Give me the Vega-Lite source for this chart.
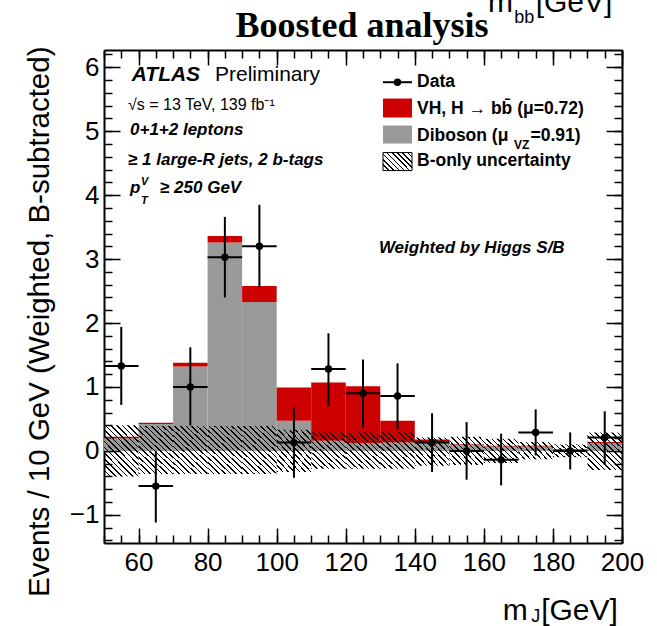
{
  "$schema": "https://vega.github.io/schema/vega-lite/v6.json",
  "autosize": {"type": "none"},
  "padding": {"left": 104, "top": 50, "right": 35, "bottom": 83},
  "width": 518,
  "height": 493,
  "background": "white",
  "config": {"view": {"stroke": null}, "axis": {"grid": false}},
  "data": {"values": [
    {"lo":50,"hi":60,"c":55,"dib":0.20,"tot":0.22,"ulo":-0.40,"uhi":0.40,"d":1.33,"dlo":0.72,"dhi":1.94},
    {"lo":60,"hi":70,"c":65,"dib":0.42,"tot":0.44,"ulo":-0.36,"uhi":0.39,"d":-0.55,"dlo":-1.12,"dhi":0.0},
    {"lo":70,"hi":80,"c":75,"dib":1.32,"tot":1.38,"ulo":-0.36,"uhi":0.39,"d":1.00,"dlo":0.40,"dhi":1.62},
    {"lo":80,"hi":90,"c":85,"dib":3.26,"tot":3.36,"ulo":-0.36,"uhi":0.39,"d":3.03,"dlo":2.40,"dhi":3.66},
    {"lo":90,"hi":100,"c":95,"dib":2.33,"tot":2.58,"ulo":-0.36,"uhi":0.39,"d":3.20,"dlo":2.56,"dhi":3.85},
    {"lo":100,"hi":110,"c":105,"dib":0.47,"tot":0.99,"ulo":-0.33,"uhi":0.33,"d":0.13,"dlo":-0.42,"dhi":0.68},
    {"lo":110,"hi":120,"c":115,"dib":0.16,"tot":1.07,"ulo":-0.28,"uhi":0.29,"d":1.28,"dlo":0.70,"dhi":1.84},
    {"lo":120,"hi":130,"c":125,"dib":0.12,"tot":1.01,"ulo":-0.28,"uhi":0.29,"d":0.90,"dlo":0.36,"dhi":1.43},
    {"lo":130,"hi":140,"c":135,"dib":0.13,"tot":0.47,"ulo":-0.28,"uhi":0.29,"d":0.86,"dlo":0.34,"dhi":1.37},
    {"lo":140,"hi":150,"c":145,"dib":0.12,"tot":0.18,"ulo":-0.23,"uhi":0.21,"d":0.13,"dlo":-0.33,"dhi":0.59},
    {"lo":150,"hi":160,"c":155,"dib":0.10,"tot":0.11,"ulo":-0.22,"uhi":0.22,"d":0.00,"dlo":-0.45,"dhi":0.45},
    {"lo":160,"hi":170,"c":165,"dib":0.07,"tot":0.08,"ulo":-0.19,"uhi":0.19,"d":-0.14,"dlo":-0.54,"dhi":0.27},
    {"lo":170,"hi":180,"c":175,"dib":0.07,"tot":0.08,"ulo":-0.13,"uhi":0.14,"d":0.29,"dlo":-0.07,"dhi":0.65},
    {"lo":180,"hi":190,"c":185,"dib":0.02,"tot":0.03,"ulo":-0.10,"uhi":0.10,"d":0.00,"dlo":-0.29,"dhi":0.29},
    {"lo":190,"hi":200,"c":195,"dib":0.12,"tot":0.14,"ulo":-0.30,"uhi":0.29,"d":0.21,"dlo":-0.22,"dhi":0.62}
  ]},
  "resolve": {"axis": {"x": "independent", "y": "independent"}},
  "layer": [
    {
      "mark": {"type": "rect", "fill": "#999999"},
      "encoding": {
        "x": {"field": "lo", "type": "quantitative", "scale": {"domain": [50, 200], "nice": false, "zero": false},
          "axis": {"orient": "bottom", "values": [60,80,100,120,140,160,180,200], "ticks": false, "domain": true, "domainColor": "#000", "domainWidth": 2, "labels": true, "labelFont": "Liberation Sans", "labelFontSize": 26, "labelColor": "#000", "labelPadding": 6, "labelFlush": false, "labelOverlap": false, "grid": false, "title": null}},
        "x2": {"field": "hi"},
        "y": {"field": "dib", "type": "quantitative", "scale": {"domain": [-1.44, 6.27], "nice": false, "zero": false},
          "axis": {"orient": "left", "values": [-1,0,1,2,3,4,5,6], "ticks": false, "domain": true, "domainColor": "#000", "domainWidth": 2, "labels": true, "labelFont": "Liberation Sans", "labelFontSize": 26, "labelColor": "#000", "labelPadding": 5, "labelFlush": false, "labelOverlap": false, "grid": false,
            "title": "Events / 10 GeV (Weighted, B-subtracted)", "titleFont": "Liberation Sans", "titleFontSize": 29.5, "titleFontWeight": "normal", "titleColor": "#000", "titleAngle": -90, "titleAlign": "right", "titleBaseline": "alphabetic", "titleX": -56, "titleY": -4}},
        "y2": {"datum": 0}
      }
    },
    {
      "mark": {"type": "rect", "fill": "#cc0000"},
      "encoding": {
        "x": {"field": "lo", "type": "quantitative", "scale": {"domain": [50, 200], "nice": false, "zero": false},
          "axis": {"orient": "bottom", "values": [60,80,100,120,140,160,180,200], "ticks": true, "tickSize": -15, "tickWidth": 1.5, "tickColor": "#000", "labels": false, "domain": false, "grid": false, "title": null}},
        "x2": {"field": "hi"},
        "y": {"field": "dib", "type": "quantitative", "scale": {"domain": [-1.44, 6.27], "nice": false, "zero": false},
          "axis": {"orient": "left", "values": [-1,0,1,2,3,4,5,6], "ticks": true, "tickSize": -16, "tickWidth": 1.5, "tickColor": "#000", "labels": false, "domain": false, "grid": false, "title": null}},
        "y2": {"field": "tot"}
      }
    },
    {
      "mark": {"type": "rect"},
      "encoding": {
        "x": {"field": "lo", "type": "quantitative", "scale": {"domain": [50, 200], "nice": false, "zero": false},
          "axis": {"orient": "bottom", "values": [50,55,60,65,70,75,80,85,90,95,100,105,110,115,120,125,130,135,140,145,150,155,160,165,170,175,180,185,190,195,200], "ticks": true, "tickSize": -8, "tickWidth": 1.5, "tickColor": "#000", "labels": false, "domain": false, "grid": false, "title": null}},
        "x2": {"field": "hi"},
        "y": {"field": "ulo", "type": "quantitative", "scale": {"domain": [-1.44, 6.27], "nice": false, "zero": false},
          "axis": {"orient": "left", "values": [-1.4,-1.2,-1,-0.8,-0.6,-0.4,-0.2,0,0.2,0.4,0.6,0.8,1,1.2,1.4,1.6,1.8,2,2.2,2.4,2.6,2.8,3,3.2,3.4,3.6,3.8,4,4.2,4.4,4.6,4.8,5,5.2,5.4,5.6,5.8,6,6.2], "ticks": true, "tickSize": -8, "tickWidth": 1.5, "tickColor": "#000", "labels": false, "domain": false, "grid": false, "title": null}},
        "y2": {"field": "uhi"},
        "fill": {
          "condition": [
            {"test": "datum.uhi - datum.ulo > 0.7", "value": {"gradient": "linear", "x1": 0, "y1": 1, "x2": 0.79, "y2": -0.145, "stops": [
              {"offset":0,"color":"#000"},{"offset":0.0187,"color":"#000"},{"offset":0.0187,"color":"#0000"},{"offset":0.0667,"color":"#0000"},
              {"offset":0.0667,"color":"#000"},{"offset":0.0853,"color":"#000"},{"offset":0.0853,"color":"#0000"},{"offset":0.1333,"color":"#0000"},
              {"offset":0.1333,"color":"#000"},{"offset":0.152,"color":"#000"},{"offset":0.152,"color":"#0000"},{"offset":0.2,"color":"#0000"},
              {"offset":0.2,"color":"#000"},{"offset":0.2187,"color":"#000"},{"offset":0.2187,"color":"#0000"},{"offset":0.2667,"color":"#0000"},
              {"offset":0.2667,"color":"#000"},{"offset":0.2853,"color":"#000"},{"offset":0.2853,"color":"#0000"},{"offset":0.3333,"color":"#0000"},
              {"offset":0.3333,"color":"#000"},{"offset":0.352,"color":"#000"},{"offset":0.352,"color":"#0000"},{"offset":0.4,"color":"#0000"},
              {"offset":0.4,"color":"#000"},{"offset":0.4187,"color":"#000"},{"offset":0.4187,"color":"#0000"},{"offset":0.4667,"color":"#0000"},
              {"offset":0.4667,"color":"#000"},{"offset":0.4853,"color":"#000"},{"offset":0.4853,"color":"#0000"},{"offset":0.5333,"color":"#0000"},
              {"offset":0.5333,"color":"#000"},{"offset":0.552,"color":"#000"},{"offset":0.552,"color":"#0000"},{"offset":0.6,"color":"#0000"},
              {"offset":0.6,"color":"#000"},{"offset":0.6187,"color":"#000"},{"offset":0.6187,"color":"#0000"},{"offset":0.6667,"color":"#0000"},
              {"offset":0.6667,"color":"#000"},{"offset":0.6853,"color":"#000"},{"offset":0.6853,"color":"#0000"},{"offset":0.7333,"color":"#0000"},
              {"offset":0.7333,"color":"#000"},{"offset":0.752,"color":"#000"},{"offset":0.752,"color":"#0000"},{"offset":0.8,"color":"#0000"},
              {"offset":0.8,"color":"#000"},{"offset":0.8187,"color":"#000"},{"offset":0.8187,"color":"#0000"},{"offset":0.8667,"color":"#0000"},
              {"offset":0.8667,"color":"#000"},{"offset":0.8853,"color":"#000"},{"offset":0.8853,"color":"#0000"},{"offset":0.9333,"color":"#0000"},
              {"offset":0.9333,"color":"#000"},{"offset":0.952,"color":"#000"},{"offset":0.952,"color":"#0000"},{"offset":1,"color":"#0000"}]}},
            {"test": "datum.uhi - datum.ulo > 0.5", "value": {"gradient": "linear", "x1": 0, "y1": 1, "x2": 0.95, "y2": -0.046, "stops": [
              {"offset":0,"color":"#000"},{"offset":0.0215,"color":"#000"},{"offset":0.0215,"color":"#0000"},{"offset":0.0769,"color":"#0000"},
              {"offset":0.0769,"color":"#000"},{"offset":0.0985,"color":"#000"},{"offset":0.0985,"color":"#0000"},{"offset":0.1538,"color":"#0000"},
              {"offset":0.1538,"color":"#000"},{"offset":0.1754,"color":"#000"},{"offset":0.1754,"color":"#0000"},{"offset":0.2308,"color":"#0000"},
              {"offset":0.2308,"color":"#000"},{"offset":0.2523,"color":"#000"},{"offset":0.2523,"color":"#0000"},{"offset":0.3077,"color":"#0000"},
              {"offset":0.3077,"color":"#000"},{"offset":0.3292,"color":"#000"},{"offset":0.3292,"color":"#0000"},{"offset":0.3846,"color":"#0000"},
              {"offset":0.3846,"color":"#000"},{"offset":0.4062,"color":"#000"},{"offset":0.4062,"color":"#0000"},{"offset":0.4615,"color":"#0000"},
              {"offset":0.4615,"color":"#000"},{"offset":0.4831,"color":"#000"},{"offset":0.4831,"color":"#0000"},{"offset":0.5385,"color":"#0000"},
              {"offset":0.5385,"color":"#000"},{"offset":0.56,"color":"#000"},{"offset":0.56,"color":"#0000"},{"offset":0.6154,"color":"#0000"},
              {"offset":0.6154,"color":"#000"},{"offset":0.6369,"color":"#000"},{"offset":0.6369,"color":"#0000"},{"offset":0.6923,"color":"#0000"},
              {"offset":0.6923,"color":"#000"},{"offset":0.7138,"color":"#000"},{"offset":0.7138,"color":"#0000"},{"offset":0.7692,"color":"#0000"},
              {"offset":0.7692,"color":"#000"},{"offset":0.7908,"color":"#000"},{"offset":0.7908,"color":"#0000"},{"offset":0.8462,"color":"#0000"},
              {"offset":0.8462,"color":"#000"},{"offset":0.8677,"color":"#000"},{"offset":0.8677,"color":"#0000"},{"offset":0.9231,"color":"#0000"},
              {"offset":0.9231,"color":"#000"},{"offset":0.9446,"color":"#000"},{"offset":0.9446,"color":"#0000"},{"offset":1,"color":"#0000"}]}},
            {"test": "datum.uhi - datum.ulo > 0.3", "value": {"gradient": "linear", "x1": 0, "y1": 1, "x2": 1.119, "y2": 0.157, "stops": [
              {"offset":0,"color":"#000"},{"offset":0.0255,"color":"#000"},{"offset":0.0255,"color":"#0000"},{"offset":0.0909,"color":"#0000"},
              {"offset":0.0909,"color":"#000"},{"offset":0.1164,"color":"#000"},{"offset":0.1164,"color":"#0000"},{"offset":0.1818,"color":"#0000"},
              {"offset":0.1818,"color":"#000"},{"offset":0.2073,"color":"#000"},{"offset":0.2073,"color":"#0000"},{"offset":0.2727,"color":"#0000"},
              {"offset":0.2727,"color":"#000"},{"offset":0.2982,"color":"#000"},{"offset":0.2982,"color":"#0000"},{"offset":0.3636,"color":"#0000"},
              {"offset":0.3636,"color":"#000"},{"offset":0.3891,"color":"#000"},{"offset":0.3891,"color":"#0000"},{"offset":0.4545,"color":"#0000"},
              {"offset":0.4545,"color":"#000"},{"offset":0.48,"color":"#000"},{"offset":0.48,"color":"#0000"},{"offset":0.5455,"color":"#0000"},
              {"offset":0.5455,"color":"#000"},{"offset":0.5709,"color":"#000"},{"offset":0.5709,"color":"#0000"},{"offset":0.6364,"color":"#0000"},
              {"offset":0.6364,"color":"#000"},{"offset":0.6618,"color":"#000"},{"offset":0.6618,"color":"#0000"},{"offset":0.7273,"color":"#0000"},
              {"offset":0.7273,"color":"#000"},{"offset":0.7527,"color":"#000"},{"offset":0.7527,"color":"#0000"},{"offset":0.8182,"color":"#0000"},
              {"offset":0.8182,"color":"#000"},{"offset":0.8436,"color":"#000"},{"offset":0.8436,"color":"#0000"},{"offset":0.9091,"color":"#0000"},
              {"offset":0.9091,"color":"#000"},{"offset":0.9345,"color":"#000"},{"offset":0.9345,"color":"#0000"},{"offset":1,"color":"#0000"}]}}
          ],
          "value": {"gradient": "linear", "x1": 0, "y1": 1, "x2": 1.207, "y2": 0.475, "stops": [
            {"offset":0,"color":"#000"},{"offset":0.0311,"color":"#000"},{"offset":0.0311,"color":"#0000"},{"offset":0.1111,"color":"#0000"},
            {"offset":0.1111,"color":"#000"},{"offset":0.1422,"color":"#000"},{"offset":0.1422,"color":"#0000"},{"offset":0.2222,"color":"#0000"},
            {"offset":0.2222,"color":"#000"},{"offset":0.2533,"color":"#000"},{"offset":0.2533,"color":"#0000"},{"offset":0.3333,"color":"#0000"},
            {"offset":0.3333,"color":"#000"},{"offset":0.3644,"color":"#000"},{"offset":0.3644,"color":"#0000"},{"offset":0.4444,"color":"#0000"},
            {"offset":0.4444,"color":"#000"},{"offset":0.4756,"color":"#000"},{"offset":0.4756,"color":"#0000"},{"offset":0.5556,"color":"#0000"},
            {"offset":0.5556,"color":"#000"},{"offset":0.5867,"color":"#000"},{"offset":0.5867,"color":"#0000"},{"offset":0.6667,"color":"#0000"},
            {"offset":0.6667,"color":"#000"},{"offset":0.6978,"color":"#000"},{"offset":0.6978,"color":"#0000"},{"offset":0.7778,"color":"#0000"},
            {"offset":0.7778,"color":"#000"},{"offset":0.8089,"color":"#000"},{"offset":0.8089,"color":"#0000"},{"offset":0.8889,"color":"#0000"},
            {"offset":0.8889,"color":"#000"},{"offset":0.92,"color":"#000"},{"offset":0.92,"color":"#0000"},{"offset":1,"color":"#0000"}]}
        }
      }
    },
    {
      "mark": {"type": "rule", "color": "#000", "strokeWidth": 2},
      "encoding": {
        "x": {"field": "c", "type": "quantitative", "scale": {"domain": [50, 200], "nice": false, "zero": false},
          "axis": {"orient": "top", "values": [60,80,100,120,140,160,180,200], "ticks": true, "tickSize": -15, "tickWidth": 1.5, "tickColor": "#000", "labels": false, "domain": true, "domainColor": "#000", "domainWidth": 2, "grid": false, "title": null}},
        "y": {"field": "dlo", "type": "quantitative", "scale": {"domain": [-1.44, 6.27], "nice": false, "zero": false},
          "axis": {"orient": "right", "values": [-1,0,1,2,3,4,5,6], "ticks": true, "tickSize": -16, "tickWidth": 1.5, "tickColor": "#000", "labels": false, "domain": true, "domainColor": "#000", "domainWidth": 2, "grid": false, "title": null}},
        "y2": {"field": "dhi"}
      }
    },
    {
      "mark": {"type": "rule", "color": "#000", "strokeWidth": 2},
      "encoding": {
        "x": {"field": "lo", "type": "quantitative", "scale": {"domain": [50, 200], "nice": false, "zero": false},
          "axis": {"orient": "top", "values": [50,55,60,65,70,75,80,85,90,95,100,105,110,115,120,125,130,135,140,145,150,155,160,165,170,175,180,185,190,195,200], "ticks": true, "tickSize": -8, "tickWidth": 1.5, "tickColor": "#000", "labels": false, "domain": false, "grid": false, "title": null}},
        "x2": {"field": "hi"},
        "y": {"field": "d", "type": "quantitative", "scale": {"domain": [-1.44, 6.27], "nice": false, "zero": false},
          "axis": {"orient": "right", "values": [-1.4,-1.2,-1,-0.8,-0.6,-0.4,-0.2,0,0.2,0.4,0.6,0.8,1,1.2,1.4,1.6,1.8,2,2.2,2.4,2.6,2.8,3,3.2,3.4,3.6,3.8,4,4.2,4.4,4.6,4.8,5,5.2,5.4,5.6,5.8,6,6.2], "ticks": true, "tickSize": -8, "tickWidth": 1.5, "tickColor": "#000", "labels": false, "domain": false, "grid": false, "title": null}}
      }
    },
    {
      "mark": {"type": "point", "shape": "circle", "filled": true, "color": "#000", "size": 55, "opacity": 1},
      "encoding": {
        "x": {"field": "c", "type": "quantitative", "scale": {"domain": [50, 200], "nice": false, "zero": false}, "axis": null},
        "y": {"field": "d", "type": "quantitative", "scale": {"domain": [-1.44, 6.27], "nice": false, "zero": false}, "axis": null}
      }
    },
    {
      "data": {"values": [{"x": 130.79, "x2": 139.19, "y": 5.766}]},
      "mark": {"type": "rule", "color": "#000", "strokeWidth": 2},
      "encoding": {
        "x": {"field": "x", "type": "quantitative", "scale": {"domain": [50, 200], "nice": false, "zero": false}, "axis": null},
        "x2": {"field": "x2"},
        "y": {"field": "y", "type": "quantitative", "scale": {"domain": [-1.44, 6.27], "nice": false, "zero": false}, "axis": null}
      }
    },
    {
      "data": {"values": [{"x": 134.99, "y": 5.766}]},
      "mark": {"type": "point", "shape": "circle", "filled": true, "color": "#000", "size": 55, "opacity": 1},
      "encoding": {
        "x": {"field": "x", "type": "quantitative", "scale": {"domain": [50, 200], "nice": false, "zero": false}, "axis": null},
        "y": {"field": "y", "type": "quantitative", "scale": {"domain": [-1.44, 6.27], "nice": false, "zero": false}, "axis": null}
      }
    },
    {
      "data": {"values": [{"x": 130.79, "x2": 139.19, "y": 5.214, "y2": 5.511}]},
      "mark": {"type": "rect", "fill": "#cc0000"},
      "encoding": {
        "x": {"field": "x", "type": "quantitative", "scale": {"domain": [50, 200], "nice": false, "zero": false}, "axis": null},
        "x2": {"field": "x2"},
        "y": {"field": "y", "type": "quantitative", "scale": {"domain": [-1.44, 6.27], "nice": false, "zero": false}, "axis": null},
        "y2": {"field": "y2"}
      }
    },
    {
      "data": {"values": [{"x": 130.79, "x2": 139.19, "y": 4.807, "y2": 5.089}]},
      "mark": {"type": "rect", "fill": "#999999"},
      "encoding": {
        "x": {"field": "x", "type": "quantitative", "scale": {"domain": [50, 200], "nice": false, "zero": false}, "axis": null},
        "x2": {"field": "x2"},
        "y": {"field": "y", "type": "quantitative", "scale": {"domain": [-1.44, 6.27], "nice": false, "zero": false}, "axis": null},
        "y2": {"field": "y2"}
      }
    },
    {
      "data": {"values": [{"x": 130.79, "x2": 139.19, "y": 4.384, "y2": 4.666}]},
      "mark": {"type": "rect", "stroke": "#000", "strokeWidth": 1, "fill": {"gradient": "linear", "x1": 0, "y1": 1, "x2": 1.17, "y2": 0.273, "stops": [
            {"offset":0,"color":"#000"},{"offset":0.0311,"color":"#000"},{"offset":0.0311,"color":"#0000"},{"offset":0.1111,"color":"#0000"},
            {"offset":0.1111,"color":"#000"},{"offset":0.1422,"color":"#000"},{"offset":0.1422,"color":"#0000"},{"offset":0.2222,"color":"#0000"},
            {"offset":0.2222,"color":"#000"},{"offset":0.2533,"color":"#000"},{"offset":0.2533,"color":"#0000"},{"offset":0.3333,"color":"#0000"},
            {"offset":0.3333,"color":"#000"},{"offset":0.3644,"color":"#000"},{"offset":0.3644,"color":"#0000"},{"offset":0.4444,"color":"#0000"},
            {"offset":0.4444,"color":"#000"},{"offset":0.4756,"color":"#000"},{"offset":0.4756,"color":"#0000"},{"offset":0.5556,"color":"#0000"},
            {"offset":0.5556,"color":"#000"},{"offset":0.5867,"color":"#000"},{"offset":0.5867,"color":"#0000"},{"offset":0.6667,"color":"#0000"},
            {"offset":0.6667,"color":"#000"},{"offset":0.6978,"color":"#000"},{"offset":0.6978,"color":"#0000"},{"offset":0.7778,"color":"#0000"},
            {"offset":0.7778,"color":"#000"},{"offset":0.8089,"color":"#000"},{"offset":0.8089,"color":"#0000"},{"offset":0.8889,"color":"#0000"},
            {"offset":0.8889,"color":"#000"},{"offset":0.92,"color":"#000"},{"offset":0.92,"color":"#0000"},{"offset":1,"color":"#0000"}]}},
      "encoding": {
        "x": {"field": "x", "type": "quantitative", "scale": {"domain": [50, 200], "nice": false, "zero": false}, "axis": null},
        "x2": {"field": "x2"},
        "y": {"field": "y", "type": "quantitative", "scale": {"domain": [-1.44, 6.27], "nice": false, "zero": false}, "axis": null},
        "y2": {"field": "y2"}
      }
    },
    {
      "data": {"values": [{"t": "Boosted analysis", "x": 124.71, "y": 6.481}]},
      "mark": {"type": "text", "align": "center", "baseline": "alphabetic", "font": "Liberation Serif", "fontSize": 36, "fontWeight": "bold", "color": "#000"},
      "encoding": {
        "x": {"field": "x", "type": "quantitative", "scale": {"domain": [50, 200], "nice": false, "zero": false}, "axis": null},
        "y": {"field": "y", "type": "quantitative", "scale": {"domain": [-1.44, 6.27], "nice": false, "zero": false}, "axis": null},
        "text": {"field": "t"}
      }
    },
    {
      "data": {"values": [{"t": "ATLAS", "x": 58.02, "y": 5.78}]},
      "mark": {"type": "text", "align": "left", "baseline": "alphabetic", "font": "Liberation Sans", "fontSize": 21, "fontWeight": "bold", "fontStyle": "italic", "color": "#000"},
      "encoding": {
        "x": {"field": "x", "type": "quantitative", "scale": {"domain": [50, 200], "nice": false, "zero": false}, "axis": null},
        "y": {"field": "y", "type": "quantitative", "scale": {"domain": [-1.44, 6.27], "nice": false, "zero": false}, "axis": null},
        "text": {"field": "t"}
      }
    },
    {
      "data": {"values": [{"t": "Preliminary", "x": 82.14, "y": 5.78}]},
      "mark": {"type": "text", "align": "left", "baseline": "alphabetic", "font": "Liberation Sans", "fontSize": 21, "color": "#000"},
      "encoding": {
        "x": {"field": "x", "type": "quantitative", "scale": {"domain": [50, 200], "nice": false, "zero": false}, "axis": null},
        "y": {"field": "y", "type": "quantitative", "scale": {"domain": [-1.44, 6.27], "nice": false, "zero": false}, "axis": null},
        "text": {"field": "t"}
      }
    },
    {
      "data": {"values": [{"t": "√s = 13 TeV, 139 fb⁻¹", "x": 56.95, "y": 5.324}]},
      "mark": {"type": "text", "align": "left", "baseline": "alphabetic", "font": "Liberation Sans", "fontSize": 16, "color": "#000"},
      "encoding": {
        "x": {"field": "x", "type": "quantitative", "scale": {"domain": [50, 200], "nice": false, "zero": false}, "axis": null},
        "y": {"field": "y", "type": "quantitative", "scale": {"domain": [-1.44, 6.27], "nice": false, "zero": false}, "axis": null},
        "text": {"field": "t"}
      }
    },
    {
      "data": {"values": [
        {"t": "0+1+2 leptons", "x": 57.53, "y": 4.933},
        {"t": "≥ 1 large-R jets, 2 b-tags", "x": 56.95, "y": 4.464},
        {"t": "p", "x": 57.53, "y": 4.026},
        {"t": "≥ 250 GeV", "x": 66.22, "y": 4.026},
        {"t": "Weighted by Higgs S/B", "x": 129.6, "y": 3.092}
      ]},
      "mark": {"type": "text", "align": "left", "baseline": "alphabetic", "font": "Liberation Sans", "fontSize": 17, "fontWeight": "bold", "fontStyle": "italic", "color": "#000"},
      "encoding": {
        "x": {"field": "x", "type": "quantitative", "scale": {"domain": [50, 200], "nice": false, "zero": false}, "axis": null},
        "y": {"field": "y", "type": "quantitative", "scale": {"domain": [-1.44, 6.27], "nice": false, "zero": false}, "axis": null},
        "text": {"field": "t"}
      }
    },
    {
      "data": {"values": [
        {"t": "V", "x": 60.71, "y": 4.166},
        {"t": "T", "x": 60.71, "y": 3.869}
      ]},
      "mark": {"type": "text", "align": "left", "baseline": "alphabetic", "font": "Liberation Sans", "fontSize": 11, "fontWeight": "bold", "fontStyle": "italic", "color": "#000"},
      "encoding": {
        "x": {"field": "x", "type": "quantitative", "scale": {"domain": [50, 200], "nice": false, "zero": false}, "axis": null},
        "y": {"field": "y", "type": "quantitative", "scale": {"domain": [-1.44, 6.27], "nice": false, "zero": false}, "axis": null},
        "text": {"field": "t"}
      }
    },
    {
      "data": {"values": [
        {"t": "Data", "x": 140.64, "y": 5.688},
        {"t": "VH, H  → bb̄ (μ=0.72)", "x": 140.64, "y": 5.272},
        {"t": "Diboson (μ", "x": 140.64, "y": 4.854},
        {"t": "=0.91)", "x": 173.5, "y": 4.854},
        {"t": "B-only uncertainty", "x": 140.64, "y": 4.463}
      ]},
      "mark": {"type": "text", "align": "left", "baseline": "alphabetic", "font": "Liberation Sans", "fontSize": 17.5, "fontWeight": "bold", "color": "#000"},
      "encoding": {
        "x": {"field": "x", "type": "quantitative", "scale": {"domain": [50, 200], "nice": false, "zero": false}, "axis": null},
        "y": {"field": "y", "type": "quantitative", "scale": {"domain": [-1.44, 6.27], "nice": false, "zero": false}, "axis": null},
        "text": {"field": "t"}
      }
    },
    {
      "data": {"values": [{"t": "VZ", "x": 168.7, "y": 4.72}]},
      "mark": {"type": "text", "align": "left", "baseline": "alphabetic", "font": "Liberation Sans", "fontSize": 12, "fontWeight": "bold", "color": "#000"},
      "encoding": {
        "x": {"field": "x", "type": "quantitative", "scale": {"domain": [50, 200], "nice": false, "zero": false}, "axis": null},
        "y": {"field": "y", "type": "quantitative", "scale": {"domain": [-1.44, 6.27], "nice": false, "zero": false}, "axis": null},
        "text": {"field": "t"}
      }
    },
    {
      "data": {"values": [
        {"t": "m", "x": 165.5, "y": -2.652},
        {"t": "[GeV]", "x": 176.6, "y": -2.652},
        {"t": "m", "x": 161.2, "y": 6.857},
        {"t": "[GeV]", "x": 175.0, "y": 6.857}
      ]},
      "mark": {"type": "text", "align": "left", "baseline": "alphabetic", "font": "Liberation Sans", "fontSize": 30, "color": "#000"},
      "encoding": {
        "x": {"field": "x", "type": "quantitative", "scale": {"domain": [50, 200], "nice": false, "zero": false}, "axis": null},
        "y": {"field": "y", "type": "quantitative", "scale": {"domain": [-1.44, 6.27], "nice": false, "zero": false}, "axis": null},
        "text": {"field": "t"}
      }
    },
    {
      "data": {"values": [
        {"t": "J", "x": 173.7, "y": -2.67},
        {"t": "bb", "x": 168.8, "y": 6.685}
      ]},
      "mark": {"type": "text", "align": "left", "baseline": "alphabetic", "font": "Liberation Sans", "fontSize": 18, "color": "#000"},
      "encoding": {
        "x": {"field": "x", "type": "quantitative", "scale": {"domain": [50, 200], "nice": false, "zero": false}, "axis": null},
        "y": {"field": "y", "type": "quantitative", "scale": {"domain": [-1.44, 6.27], "nice": false, "zero": false}, "axis": null},
        "text": {"field": "t"}
      }
    }
  ]
}
